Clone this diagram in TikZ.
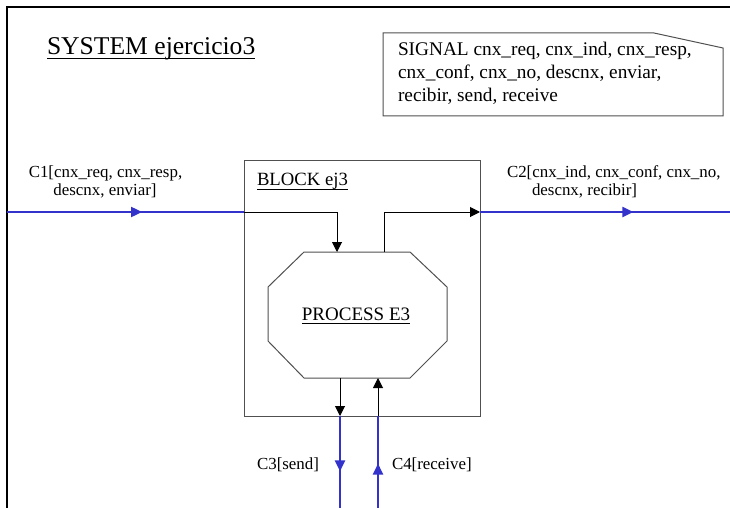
\documentclass[tikz,border=0pt]{standalone}
\usepackage{fontspec}
\setmainfont{Liberation Serif}
\usetikzlibrary{arrows.meta,decorations.markings}
\definecolor{chanblue}{RGB}{51,51,204}
\definecolor{edgegray}{RGB}{80,80,80}
\tikzset{
  txt/.style={inner sep=0pt, outer sep=0pt},
  lblfont/.style={font=\fontsize{16.9}{18}\selectfont},
  chan/.style={draw=chanblue, line width=2pt},
  conn/.style={draw=black, line width=1pt, -{Triangle[length=10pt,width=10pt]}},
  midarrow/.style={postaction={decorate}, decoration={markings, mark=at position #1 with {\arrow[chanblue]{Triangle[length=11pt,width=10pt]}}}},
  blockbox/.style={draw=edgegray, line width=1pt, rectangle, inner sep=0pt, outer sep=0pt},
  shapeline/.style={draw=edgegray, line width=1pt},
  uline/.style={line width=1pt, draw=black}
}
\begin{document}
\begin{tikzpicture}[x=1pt,y=-1pt]
\useasboundingbox (0,0) rectangle (730,508);
% system frame
\coordinate (fr1) at (7,515);
\coordinate (fr2) at (7,7);
\coordinate (fr3) at (740,7);
\draw[line width=1.5pt, black] (fr1) -- (fr2) -- (fr3);
% title
\node[txt, anchor=base west, font=\fontsize{25.6}{30}\selectfont] (title) at (47,55) {SYSTEM ejercicio3};
\draw[uline] ([yshift=-3.5pt]title.base west) -- ([yshift=-3.5pt]title.base east);
% signal box
\coordinate (s1) at (383,33);
\coordinate (s2) at (654,33);
\coordinate (s3) at (723,48);
\coordinate (s4) at (723,116);
\coordinate (s5) at (383,116);
\draw[shapeline] (s1) -- (s2) -- (s3) -- (s4) -- (s5) -- cycle;
\node[txt, anchor=base west, font=\fontsize{19.3}{23}\selectfont] (sig1) at (398,55.5) {SIGNAL cnx\_req, cnx\_ind, cnx\_resp,};
\node[txt, anchor=base west, font=\fontsize{19.3}{23}\selectfont] (sig2) at (398,78.5) {cnx\_conf, cnx\_no, descnx, enviar,};
\node[txt, anchor=base west, font=\fontsize{19.3}{23}\selectfont] (sig3) at (398,101.5) {recibir, send, receive};
% block
\node[blockbox, minimum width=236pt, minimum height=256pt, anchor=north west] (blk) at (244,160) {};
\node[txt, anchor=base west, font=\fontsize{18.7}{22}\selectfont] (blkname) at (257,185) {BLOCK ej3};
\draw[uline] ([yshift=-4pt]blkname.base west) -- ([yshift=-4pt]blkname.base east);
% process (octagon)
\coordinate (p1) at (304,252);
\coordinate (p2) at (410,252);
\coordinate (p3) at (447,287);
\coordinate (p4) at (447,341);
\coordinate (p5) at (410,378);
\coordinate (p6) at (304,378);
\coordinate (p7) at (268,341);
\coordinate (p8) at (268,287);
\draw[shapeline] (p1) -- (p2) -- (p3) -- (p4) -- (p5) -- (p6) -- (p7) -- (p8) -- cycle;
\node[txt, anchor=base, font=\fontsize{19}{22}\selectfont] (proc) at (356,320) {PROCESS E3};
\draw[uline] ([yshift=-3.5pt]proc.base west) -- ([yshift=-3.5pt]proc.base east);
% channel coordinates
\coordinate (c1a) at (7,212);
\coordinate (c1b) at (244,212);
\coordinate (c1c) at (337,212);
\coordinate (c1d) at (337,252);
\coordinate (c2a) at (384,252);
\coordinate (c2b) at (384,212);
\coordinate (c2c) at (480,212);
\coordinate (c2d) at (740,212);
\coordinate (c3a) at (340,378);
\coordinate (c3b) at (340,416);
\coordinate (c3c) at (340,515);
\coordinate (c4a) at (378,515);
\coordinate (c4b) at (378,416);
\coordinate (c4c) at (378,378);
% C1
\draw[chan, midarrow=0.57] (c1a) -- (c1b);
\draw[conn] (c1b) -- (c1c) -- (c1d);
% C2
\draw[conn] (c2a) -- (c2b) -- (c2c);
\draw[chan, midarrow=0.59] (c2c) -- (c2d);
% C3
\draw[chan, midarrow=0.56] (c3b) -- (c3c);
\draw[conn] (c3a) -- (c3b);
% C4
\draw[chan, midarrow=0.52] (c4a) -- (c4b);
\draw[conn] (c4b) -- (c4c);
% labels
\node[txt, lblfont, anchor=base] (c1l1) at (105.5,177) {C1[cnx\_req, cnx\_resp,};
\node[txt, lblfont, anchor=base] (c1l2) at (105,195) {descnx, enviar]};
\node[txt, lblfont, anchor=base west] (c2l1) at (507,177) {C2[cnx\_ind, cnx\_conf, cnx\_no,};
\node[txt, lblfont, anchor=base west] (c2l2) at (532,195) {descnx, recibir]};
\node[txt, lblfont, anchor=base east] (c3l) at (319,469) {C3[send]};
\node[txt, lblfont, anchor=base west] (c4l) at (392,469) {C4[receive]};
\end{tikzpicture}
\end{document}
